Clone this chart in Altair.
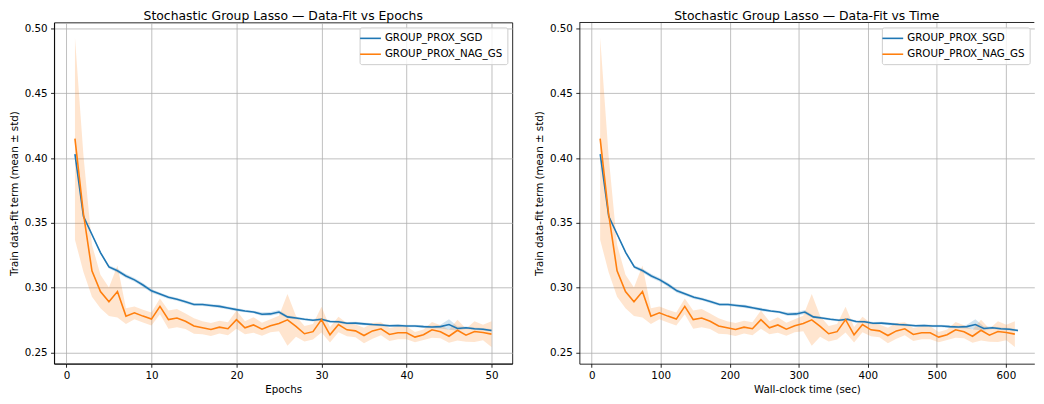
import altair as alt
import pandas as pd

methods = ["GROUP_PROX_SGD", "GROUP_PROX_NAG_GS"]
colors = ["#1f77b4", "#ff7f0e"]

epochs = list(range(1, 51))

sgd_time = [12.4, 24.7, 37.1, 49.4, 61.8, 74.1, 86.5, 98.8, 111.2, 123.5,
            135.9, 148.2, 160.6, 172.9, 185.3, 197.6, 210.0, 222.3, 234.7, 247.0,
            259.4, 271.7, 284.1, 296.4, 308.8, 321.1, 333.5, 345.8, 358.2, 370.5,
            382.9, 395.2, 407.6, 419.9, 432.3, 444.6, 457.0, 469.3, 481.7, 494.0,
            506.4, 518.7, 531.1, 543.4, 555.8, 568.1, 580.5, 592.8, 605.2, 617.5]
nag_time = [12.3, 24.5, 36.8, 49.0, 61.3, 73.6, 85.8, 98.1, 110.3, 122.6,
            134.9, 147.1, 159.4, 171.6, 183.9, 196.2, 208.4, 220.7, 232.9, 245.2,
            257.5, 269.7, 282.0, 294.2, 306.5, 318.8, 331.0, 343.3, 355.5, 367.8,
            380.1, 392.3, 404.6, 416.8, 429.1, 441.4, 453.6, 465.9, 478.1, 490.4,
            502.7, 514.9, 527.2, 539.4, 551.7, 564.0, 576.2, 588.5, 600.7, 613.0]

sgd_mean = [0.403, 0.355, 0.341, 0.327, 0.316, 0.313, 0.309, 0.306, 0.302, 0.2975,
            0.295, 0.2925, 0.291, 0.289, 0.287, 0.287, 0.2862, 0.2855, 0.2843, 0.283,
            0.282, 0.2812, 0.2795, 0.2797, 0.2812, 0.2774, 0.2766, 0.2756, 0.2748, 0.2756,
            0.2738, 0.2736, 0.2725, 0.2726, 0.272, 0.2715, 0.2712, 0.2706, 0.2707, 0.2704,
            0.2704, 0.2699, 0.2696, 0.2699, 0.2715, 0.2684, 0.2690, 0.2682, 0.2679, 0.2669]
sgd_std = [0.001, 0.001, 0.001, 0.001, 0.0012, 0.0015, 0.0015, 0.0015, 0.0015, 0.0015,
           0.0012, 0.0012, 0.0012, 0.0012, 0.0012, 0.0012, 0.0012, 0.0012, 0.0012, 0.0012,
           0.001, 0.001, 0.0015, 0.0015, 0.0015, 0.001, 0.001, 0.001, 0.001, 0.001,
           0.001, 0.001, 0.001, 0.001, 0.001, 0.001, 0.001, 0.001, 0.001, 0.001,
           0.001, 0.001, 0.001, 0.0015, 0.004, 0.0015, 0.001, 0.001, 0.001, 0.001]

nag_mean = [0.415, 0.357, 0.313, 0.297, 0.289, 0.297, 0.278, 0.2805, 0.278, 0.2757,
            0.2855, 0.2753, 0.2765, 0.274, 0.2704, 0.269, 0.2677, 0.2695, 0.2683, 0.2753,
            0.269, 0.2712, 0.2679, 0.2705, 0.2723, 0.2751, 0.2701, 0.2644, 0.266, 0.2753,
            0.2636, 0.2715, 0.2674, 0.2666, 0.263, 0.2666, 0.2682, 0.2638, 0.2651, 0.2651,
            0.2618, 0.2636, 0.2674, 0.2659, 0.2625, 0.2671, 0.2633, 0.2661, 0.2653, 0.2641]
nag_std = [0.078, 0.045, 0.020, 0.013, 0.011, 0.020, 0.006, 0.005, 0.005, 0.005,
           0.006, 0.007, 0.007, 0.006, 0.006, 0.005, 0.005, 0.005, 0.005, 0.007,
           0.005, 0.006, 0.005, 0.005, 0.006, 0.020, 0.008, 0.006, 0.006, 0.010,
           0.006, 0.006, 0.005, 0.005, 0.006, 0.006, 0.005, 0.005, 0.005, 0.005,
           0.004, 0.004, 0.006, 0.005, 0.005, 0.008, 0.005, 0.008, 0.006, 0.010]

x_ticks_epochs = [0, 10, 20, 30, 40, 50]
x_ticks_time = [0, 100, 200, 300, 400, 500, 600]
y_ticks = [0.25, 0.30, 0.35, 0.40, 0.45, 0.50]

rows = []
for name, t, m, s in [(methods[0], sgd_time, sgd_mean, sgd_std),
                      (methods[1], nag_time, nag_mean, nag_std)]:
    for e, tt, mm, ss in zip(epochs, t, m, s):
        rows.append({"method": name, "epoch": e, "time": tt, "mean": mm,
                     "lo": mm - ss, "hi": mm + ss})
df = pd.DataFrame(rows)
spine_df = pd.DataFrame({"k": [0]})

FONT = "DejaVu Sans"
Y_DOMAIN = [0.2413, 0.5046]
PW, PH = 462, 344


def panel(xfield, xtitle, xdomain, xticks, title, width, right_spine=True):
    x = alt.X(f"{xfield}:Q", title=xtitle,
              scale=alt.Scale(domain=xdomain, nice=False, zero=False),
              axis=alt.Axis(values=xticks, format="d"))
    y = alt.Y("mean:Q", title="Train data-fit term (mean ± std)",
              scale=alt.Scale(domain=Y_DOMAIN, nice=False, zero=False),
              axis=alt.Axis(values=y_ticks, format=".2f"))
    layers = []
    for name, col in zip(methods, colors):
        band = alt.Chart(df).transform_filter(
            alt.datum.method == name
        ).mark_area(opacity=0.2, color=col).encode(
            x=x,
            y=alt.Y("lo:Q", scale=alt.Scale(domain=Y_DOMAIN, nice=False, zero=False)),
            y2="hi:Q",
        )
        layers.append(band)
    line = alt.Chart(df).mark_line(strokeWidth=1.6).encode(
        x=x, y=y,
        color=alt.Color("method:N", scale=alt.Scale(domain=methods, range=colors),
                        legend=alt.Legend(title=None, orient="top-right", offset=5,
                                          symbolType="M-2,0L2,0")),
        order="epoch:Q",
    )
    layers.append(line)
    props = dict(width=width, height=PH,
                 title=alt.TitleParams(title, fontSize=12.5, font=FONT,
                                       fontWeight="normal", color="black", offset=0))
    if not right_spine:
        top = alt.Chart(spine_df).mark_rule(color="black", strokeWidth=0.85).encode(
            x=alt.value(0), x2=alt.value(width), y=alt.value(0))
        layers.append(top)
        props["view"] = alt.ViewBackground(stroke="transparent")
    return alt.layer(*layers).properties(**props)


left = panel("epoch", "Epochs", [-1.45, 52.45], x_ticks_epochs,
             "Stochastic Group Lasso — Data-Fit vs Epochs", PW)
right = panel("time", "Wall-clock time (sec)", [-17.8, 641.2], x_ticks_time,
              "Stochastic Group Lasso — Data-Fit vs Time", 458.7, right_spine=False)

chart = alt.hconcat(left, right, spacing=67.6, bounds="flush").resolve_scale(
    color="independent").resolve_legend(color="independent").properties(
    padding={"left": 0.5, "top": -1, "right": 0, "bottom": 0}
).configure_view(stroke="black", strokeWidth=0.85).configure_axis(
    labelFont=FONT, labelFontSize=10.4, labelColor="black",
    titleFont=FONT, titleFontSize=10.4, titleFontWeight="normal", titleColor="black",
    tickColor="black", tickSize=3.6, tickWidth=0.85,
    domainColor="black", domainWidth=0.85,
    gridColor="#b0b0b0", gridWidth=0.8, gridOpacity=1,
    labelPadding=3.5, titlePadding=4,
).configure_axisY(labelPadding=3.5, titlePadding=5).configure_legend(
    labelFont=FONT, labelFontSize=10.4, labelColor="black",
    fillColor="rgba(255,255,255,0.8)", strokeColor="#cccccc", cornerRadius=2,
    padding=4.5, symbolSize=110, symbolStrokeWidth=1.6,
    labelOffset=8, rowPadding=4,
)

chart.save("out.html", embed_options={"renderer": "svg", "actions": False})
